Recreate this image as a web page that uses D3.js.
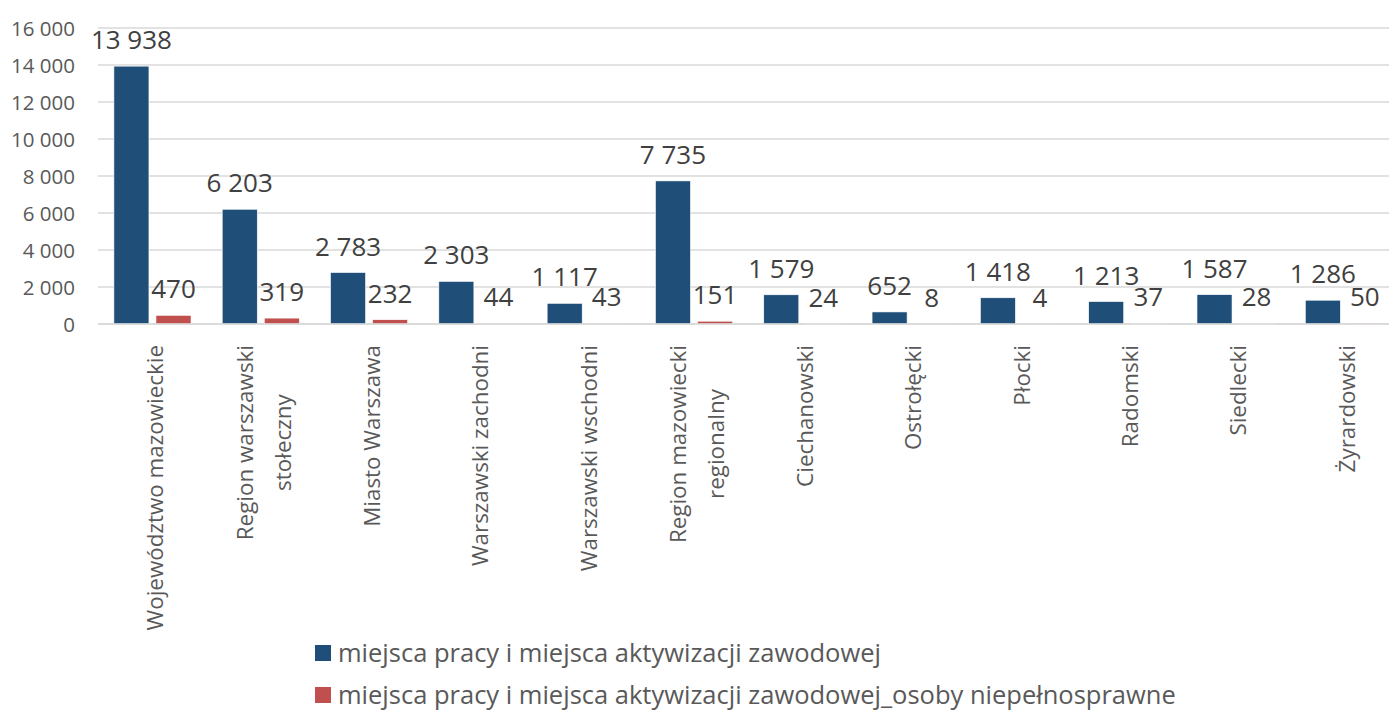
<!DOCTYPE html>
<html>
<head>
<meta charset="utf-8">
<script src="https://cdn.jsdelivr.net/npm/d3@7"></script>
<style>
  html, body { margin: 0; padding: 0; background: #fff; }
  svg { display: block; font-family: "Open Sans", sans-serif; }
</style>
</head>
<body>
<svg id="chart" width="1389" height="713"></svg>
<script>
const categories = [
  ["Województwo mazowieckie"],
  ["Region warszawski", "stołeczny"],
  ["Miasto Warszawa"],
  ["Warszawski zachodni"],
  ["Warszawski wschodni"],
  ["Region mazowiecki", "regionalny"],
  ["Ciechanowski"],
  ["Ostrołęcki"],
  ["Płocki"],
  ["Radomski"],
  ["Siedlecki"],
  ["Żyrardowski"]
];
const seriesNames = [
  "miejsca pracy i miejsca aktywizacji zawodowej",
  "miejsca pracy i miejsca aktywizacji zawodowej_osoby niepełnosprawne"
];
const seriesColors = ["#1F4E79", "#C0504D"];
const valuesJobs = [13938, 6203, 2783, 2303, 1117, 7735, 1579, 652, 1418, 1213, 1587, 1286];
const valuesDisabled = [470, 319, 232, 44, 43, 151, 24, 8, 4, 37, 28, 50];
const yTicks = [0, 2000, 4000, 6000, 8000, 10000, 12000, 14000, 16000];

const svg = d3.select("#chart");
const fmt = v => d3.format(",")(v).replace(/,/g, " ");

const catKeys = categories.map(c => c.join(" "));
const x0 = d3.scaleBand().domain(catKeys).range([98.3, 1398]).paddingInner(0).paddingOuter(0);
const bw = x0.bandwidth();
const x1 = d3.scaleBand().domain([0, 1]).range([15.6, bw - 15.6]).paddingInner(7 / 42).paddingOuter(0);
const y = d3.scaleLinear().domain([0, 16000]).range([324, 28]);

// gridlines
svg.append("g").selectAll("line").data(yTicks).join("line")
  .attr("x1", 98).attr("x2", 1389)
  .attr("y1", d => y(d)).attr("y2", d => y(d))
  .attr("stroke", "#D9D9D9").attr("stroke-width", 1.5);

// y axis labels
const yAxis = d3.axisLeft(y).tickValues(yTicks).tickFormat(fmt).tickSize(0).tickPadding(0);
const yg = svg.append("g").attr("transform", "translate(75,0)").call(yAxis);
yg.select(".domain").remove();
yg.selectAll("text").attr("fill", "#595959").style("font-size", "20.5px")
  .style("font-family", "'Open Sans', sans-serif").attr("dy", "0.35em");

const data = catKeys.map((k, i) => ({ k, vals: [valuesJobs[i], valuesDisabled[i]] }));

const groups = svg.append("g").selectAll("g").data(data).join("g")
  .attr("transform", d => `translate(${x0(d.k)},0)`);

groups.selectAll("rect").data(d => d.vals.map((v, s) => ({ v, s }))).join("rect")
  .attr("x", d => x1(d.s)).attr("width", x1.bandwidth())
  .attr("y", d => y(d.v)).attr("height", d => y(0) - y(d.v))
  .attr("fill", d => seriesColors[d.s])
  .attr("stroke", "#ffffff").attr("stroke-width", 0.6);

groups.selectAll("text.val").data(d => d.vals.map((v, s) => ({ v, s }))).join("text")
  .attr("class", "val")
  .attr("x", d => x1(d.s) + x1.bandwidth() / 2)
  .attr("y", d => y(d.v) - 17)
  .attr("text-anchor", "middle")
  .attr("fill", "#404040").style("font-size", "26px")
  .text(d => fmt(d.v));

// baseline
svg.append("line").attr("x1", 98).attr("x2", 1389).attr("y1", y(0)).attr("y2", y(0))
  .attr("stroke", "#D9D9D9").attr("stroke-width", 1.5);

// x category labels (rotated)
const lineGap = 38;
categories.forEach((lines, i) => {
  const cx = x0(catKeys[i]) + bw / 2 + 3;
  const n = lines.length;
  const t = svg.append("text")
    .attr("transform", `translate(${cx},345) rotate(-90)`)
    .attr("text-anchor", "end")
    .attr("fill", "#595959").style("font-size", "22.4px");
  lines.forEach((ln, j) => {
    const off = (j - (n - 1) / 2) * lineGap;
    t.append("tspan").attr("x", 0).attr("y", off).attr("dy", "0.35em").text(ln);
  });
  const len = d3.max(t.selectAll("tspan").nodes(), nd => nd.getComputedTextLength());
  t.selectAll("tspan").each(function () {
    const l = this.getComputedTextLength();
    d3.select(this).attr("x", -(len - l) / 2);
  });
});

// legend
const legendRows = [653, 695];
seriesNames.forEach((name, i) => {
  svg.append("rect").attr("x", 315).attr("y", legendRows[i] - 8).attr("width", 16).attr("height", 16)
    .attr("fill", seriesColors[i]);
  svg.append("text").attr("x", 338).attr("y", legendRows[i]).attr("dy", "0.35em")
    .attr("fill", "#595959").style("font-size", "25.5px").text(name);
});
</script>
</body>
</html>
